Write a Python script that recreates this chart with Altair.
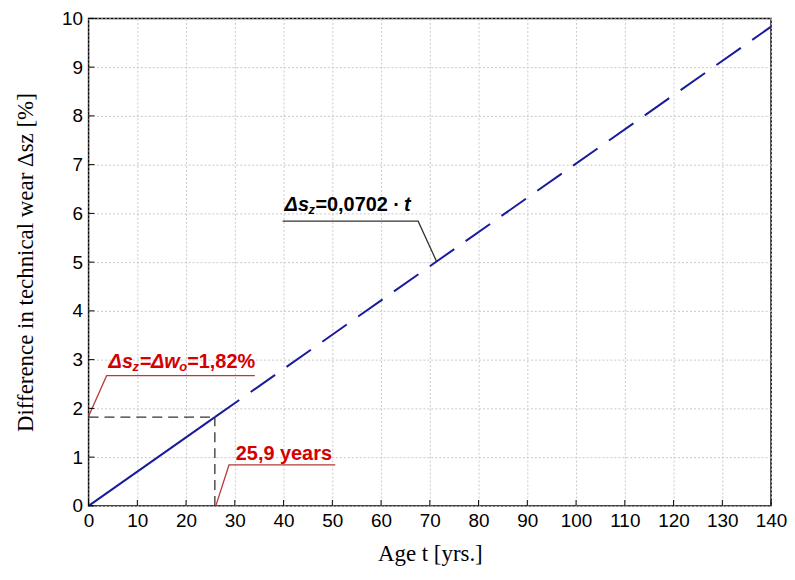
import altair as alt
import pandas as pd

# ---- data ----
x_ticks = list(range(0, 141, 10))
y_ticks = list(range(0, 11))
line_t = [0, 25.9, 140]
line_dsz = [0, 1.82, 9.83]
cross_t = 25.9
cross_dsz = 1.82

lead1_t = [0, 3.7, 34.1]
lead1_v = [1.84, 2.67, 2.67]
lead2_t = [26.1, 28.8, 50.6]
lead2_v = [0, 0.84, 0.84]
lead3_t = [39.8, 67.6, 71.4]
lead3_v = [5.84, 5.84, 5.01]

RED = "#d40000"
RED_LINE = "#b83a3a"
BLUE = "#1a1a9c"

xs = alt.Scale(domain=[0, 140], nice=False)
ys = alt.Scale(domain=[0, 10], nice=False)

X = alt.X("t:Q", scale=xs, title="Age t [yrs.]",
          axis=alt.Axis(values=x_ticks, grid=True, labelOverlap=False, labelFlush=False))
Y = alt.Y("v:Q", scale=ys, title="Difference in technical wear Δsz [%]",
          axis=alt.Axis(values=y_ticks, grid=True, labelOverlap=False, labelFlush=False))

solid = alt.Chart(pd.DataFrame({"t": line_t[:2], "v": line_dsz[:2]})).mark_line(
    color=BLUE, strokeWidth=2).encode(x=X, y=Y)
dashed = alt.Chart(pd.DataFrame({"t": line_t[1:], "v": line_dsz[1:]})).mark_line(
    color=BLUE, strokeWidth=2, strokeDash=[30, 14]).encode(x="t:Q", y="v:Q")

guides = alt.Chart(pd.DataFrame({
    "t": [0, cross_t], "t2": [cross_t, cross_t],
    "v": [cross_dsz, 0], "v2": [cross_dsz, cross_dsz]})).mark_rule(
    color="#333333", strokeWidth=1.3, strokeDash=[10, 6]).encode(
    x="t:Q", x2="t2:Q", y="v:Q", y2="v2:Q")

def leader(ts, vs, color, w):
    return alt.Chart(pd.DataFrame({"t": ts, "v": vs, "o": list(range(len(ts)))})).mark_line(
        color=color, strokeWidth=w).encode(x="t:Q", y="v:Q", order="o:Q")

l1 = leader(lead1_t, lead1_v, RED_LINE, 1.3)
l2 = leader(lead2_t, lead2_v, RED_LINE, 1.3)
l3 = leader(lead3_t, lead3_v, "#333333", 1.3)

def piece(t, v, text, dx, size=20, style="normal", color="black", dy=0):
    return alt.Chart(pd.DataFrame({"t": [t], "v": [v]})).mark_text(
        text=text, align="left", baseline="alphabetic", dx=dx, dy=dy,
        font="Liberation Sans", fontSize=size, fontWeight="bold",
        fontStyle=style, color=color).encode(x="t:Q", y="v:Q")

# red label 1: Δs_z=Δw_o=1,82%
a1t, a1v = 4.1, 2.82
red1 = [
    piece(a1t, a1v, "Δs", 0, style="italic", color=RED),
    piece(a1t, a1v, "z", 24, size=13, style="italic", color=RED, dy=3),
    piece(a1t, a1v, "=Δw", 31, style="italic", color=RED),
    piece(a1t, a1v, "o", 71, size=13, style="italic", color=RED, dy=3),
    piece(a1t, a1v, "=1,82%", 79, color=RED),
]
red2 = [piece(30.2, 0.94, "25,9 years", 0, color=RED)]
# black label: Δs_z=0,0702 · t
a3t, a3v = 40.2, 6.04
blk = [
    piece(a3t, a3v, "Δs", 0, style="italic"),
    piece(a3t, a3v, "z", 24, size=13, style="italic", dy=3),
    piece(a3t, a3v, "=0,0702 · ", 31),
    piece(a3t, a3v, "t", 120, style="italic"),
]

xt = alt.Chart(pd.DataFrame({"t": x_ticks})).mark_rule(color="black", strokeWidth=1).encode(
    x="t:Q", y=alt.datum(0), y2=alt.datum(0.12))
yt = alt.Chart(pd.DataFrame({"v": y_ticks})).mark_rule(color="black", strokeWidth=1).encode(
    y="v:Q", x=alt.datum(0), x2=alt.datum(1.2))

chart = alt.layer(solid, dashed, guides, l1, l2, l3, xt, yt, *red1, *red2, *blk).properties(
    width=686, height=490,
    padding={"left": 6, "top": 0, "right": 0, "bottom": 0}
).configure_view(
    stroke="black", strokeWidth=1.5
).configure_axis(
    labelFont="Liberation Sans", labelFontSize=19, labelColor="black",
    titleFont="Liberation Serif", titleFontSize=23, titleFontWeight="normal",
    titleColor="black", ticks=False, domain=False, labelPadding=6,
    gridColor="#c8c8c8", gridDash=[2, 2], gridWidth=1
).configure_axisX(titlePadding=12).configure_axisY(titlePadding=24)

chart.save("out.html", embed_options={"renderer": "svg", "actions": False})
